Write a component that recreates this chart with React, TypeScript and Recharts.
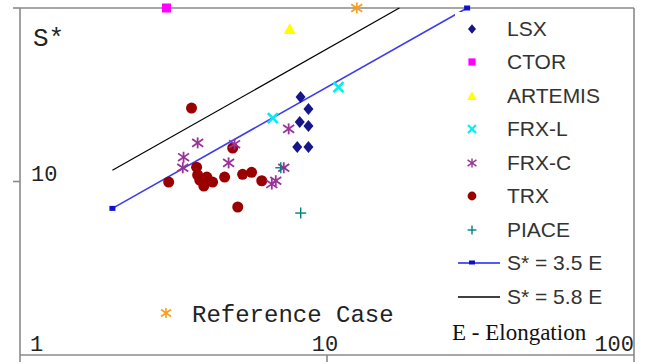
import React from "react";
import { ScatterChart, Scatter, XAxis, YAxis, ReferenceLine, Legend } from "recharts";

// ─── Data (E = elongation, S = S*) ─────────────────────────────────────────────

const lsxE = [8.2, 8.7, 8.15, 8.7, 8.0, 8.7];
const lsxS = [30.7, 26.2, 22.0, 20.9, 15.8, 15.8];
const ctorE = [3.0];
const ctorS = [100];
const artemisE = [7.56];
const artemisS = [75.7];
const frxlE = [6.66, 10.9];
const frxlS = [23.2, 35.0];
const frxcE = [3.79, 3.41, 3.39, 5.0, 4.78, 7.5, 7.23, 6.61, 6.81];
const frxcS = [16.7, 13.8, 12.0, 16.4, 12.8, 20.1, 12.0, 9.67, 10.1];
const trxE = [3.62, 4.93, 3.05, 3.76, 3.79, 4.06, 4.24, 3.97, 4.64, 5.31, 5.68, 6.13, 5.12, 3.85];
const trxS = [26.5, 15.6, 9.93, 12.1, 10.9, 10.6, 9.93, 9.42, 10.6, 11.0, 11.3, 10.1, 7.13, 10.2];
const piaceE = [7.07, 8.21];
const piaceS = [12.0, 6.58];
const refE = [12.5];
const refS = [100];
const fit35E = [2.0, 28.6];
const fit35S = [7.0, 100];
const fit58E = [2.0, 17.2];
const fit58S = [11.6, 100];

const xTicks = [1, 10, 100];
const yTicks = [1, 10, 100];

const zip = (es: number[], ss: number[]) => es.map((e, i) => ({ e, s: ss[i] }));

// ─── Colours / fonts ──────────────────────────────────────────────────────────

const C = {
  lsx: "#16168a",
  ctor: "#ff00ff",
  artemis: "#ffff00",
  frxl: "#00f0f0",
  frxc: "#993399",
  trx: "#9a0000",
  piace: "#008080",
  ref: "#f5a020",
  fit35: "#3c3cf0",
  fit58: "#000000",
  frame: "#8a8a8a",
  text: "#333333",
};
const MONO = "'Liberation Mono', 'Courier New', monospace";
const SANS = "'Liberation Sans', Arial, sans-serif";
const SERIF = "'Liberation Serif', 'Times New Roman', serif";

// ─── Marker shapes ────────────────────────────────────────────────────────────

type Kind = "diamond" | "square" | "triangle" | "cross" | "star" | "circle" | "plus";

const Marker = ({ kind, cx, cy, color, k = 1 }: { kind: Kind; cx: number; cy: number; color: string; k?: number }) => {
  switch (kind) {
    case "diamond":
      return <path d={`M${cx},${cy - 6 * k}L${cx + 5 * k},${cy}L${cx},${cy + 6 * k}L${cx - 5 * k},${cy}Z`} fill={color} />;
    case "square":
      return <rect x={cx - 4.5 * k} y={cy - 4.5 * k} width={9 * k} height={9 * k} fill={color} />;
    case "triangle":
      return <path d={`M${cx},${cy - 6 * k}L${cx + 6 * k},${cy + 5 * k}L${cx - 6 * k},${cy + 5 * k}Z`} fill={color} />;
    case "cross": {
      const r = 5 * k;
      return (
        <g stroke={color} strokeWidth={2.6 * k}>
          <line x1={cx - r} y1={cy - r} x2={cx + r} y2={cy + r} />
          <line x1={cx - r} y1={cy + r} x2={cx + r} y2={cy - r} />
        </g>
      );
    }
    case "star": {
      const r = 5.5 * k;
      return (
        <g stroke={color} strokeWidth={1.8 * k}>
          <line x1={cx - r} y1={cy - r * 0.7} x2={cx + r} y2={cy + r * 0.7} />
          <line x1={cx - r} y1={cy + r * 0.7} x2={cx + r} y2={cy - r * 0.7} />
          <line x1={cx} y1={cy - r} x2={cx} y2={cy + r} />
        </g>
      );
    }
    case "circle":
      return <circle cx={cx} cy={cy} r={5.5 * k} fill={color} />;
    case "plus": {
      const r = 5.5 * k;
      return (
        <g stroke={color} strokeWidth={1.4}>
          <line x1={cx - r} y1={cy} x2={cx + r} y2={cy} />
          <line x1={cx} y1={cy - r} x2={cx} y2={cy + r} />
        </g>
      );
    }
  }
  return null;
};

const shapeOf = (kind: Kind, color: string) => (p: any) => <Marker kind={kind} cx={p.cx} cy={p.cy} color={color} />;

// ─── Legend ───────────────────────────────────────────────────────────────────

const legendItems: { name: string; kind: Kind | "line"; color: string; dot?: boolean }[] = [
  { name: "LSX", kind: "diamond", color: C.lsx },
  { name: "CTOR", kind: "square", color: C.ctor },
  { name: "ARTEMIS", kind: "triangle", color: C.artemis },
  { name: "FRX-L", kind: "cross", color: C.frxl },
  { name: "FRX-C", kind: "star", color: C.frxc },
  { name: "TRX", kind: "circle", color: C.trx },
  { name: "PIACE", kind: "plus", color: C.piace },
  { name: "S* = 3.5 E", kind: "line", color: "#2020f0", dot: true },
  { name: "S* = 5.8 E", kind: "line", color: C.fit58 },
];

const LegendBox = () => (
  <div style={{ background: "#fff", padding: "0 6px 0 0" }}>
    {legendItems.map((it) => (
      <div key={it.name} style={{ display: "flex", alignItems: "center", height: 33.5 }}>
        <svg width={52} height={20} style={{ display: "block" }}>
          {it.kind === "line" ? (
            <g>
              <line x1={3} y1={10} x2={45} y2={10} stroke={it.color} strokeWidth={1.6} />
              {it.dot && <rect x={14} y={7.5} width={6} height={4} fill="#1010c0" />}
            </g>
          ) : (
            <Marker kind={it.kind as Kind} cx={17} cy={10} color={it.color} k={0.8} />
          )}
        </svg>
        <span style={{ fontFamily: SANS, fontSize: 21, color: C.text, lineHeight: "20px" }}>{it.name}</span>
      </div>
    ))}
  </div>
);

// ─── Ticks ────────────────────────────────────────────────────────────────────

const XTick = ({ x, y, payload }: any) => {
  const v = payload.value;
  const anchor = v === 1 ? "start" : v === 100 ? "end" : "middle";
  const tx = v === 1 ? x + 10 : v === 100 ? x : x - 2;
  return (
    <text x={tx} y={y - 11} textAnchor={anchor} fontFamily={MONO} fontSize={22} fill="#222">
      {v}
    </text>
  );
};

const YTick = ({ x, y, payload }: any) =>
  payload.value === 10 ? (
    <text x={x + 18} y={y - 1} textAnchor="start" fontFamily={MONO} fontSize={22} fill="#222">
      10
    </text>
  ) : (
    <g />
  );

// ─── Chart ────────────────────────────────────────────────────────────────────

export default function App() {
  return (
    <div style={{ position: "absolute", left: 0, top: 0, width: 652, height: 363, background: "#fff" }}>
      <ScatterChart width={652} height={363} margin={{ top: 8, right: 18, bottom: 0, left: 0 }}>
        <XAxis
          dataKey="e"
          type="number"
          scale="log"
          domain={[1, 100]}
          ticks={xTicks}
          height={8}
          tickSize={7}
          tickMargin={0}
          tick={<XTick />}
          axisLine={{ stroke: C.frame, strokeWidth: 1.6 }}
          tickLine={{ stroke: C.frame, strokeWidth: 1.6 }}
        />
        <YAxis
          dataKey="s"
          type="number"
          scale="log"
          domain={[1, 100]}
          ticks={yTicks}
          width={20}
          tickSize={7}
          tickMargin={0}
          tick={<YTick />}
          axisLine={{ stroke: C.frame, strokeWidth: 1.6 }}
          tickLine={{ stroke: C.frame, strokeWidth: 1.6 }}
        />
        <ReferenceLine y={100} stroke={C.frame} strokeWidth={1.6} />
        <ReferenceLine x={100} stroke={C.frame} strokeWidth={1.6} />

        <Legend
          layout="vertical"
          align="center"
          verticalAlign="middle"
          content={() => <LegendBox />}
          wrapperStyle={{ left: 455, top: 12, width: "auto" }}
        />

        <Scatter name="S* = 5.8 E" data={zip(fit58E, fit58S)} fill={C.fit58}
          line={{ stroke: C.fit58, strokeWidth: 1.2 }} shape={() => <g />} isAnimationActive={false} />
        <Scatter name="S* = 3.5 E" data={zip(fit35E, fit35S)} fill={C.fit35}
          line={{ stroke: C.fit35, strokeWidth: 1.6 }}
          shape={(p: any) => <rect x={p.cx - 3} y={p.cy - 2.5} width={6} height={5} fill="#1010d0" />}
          isAnimationActive={false} />

        <Scatter name="TRX" data={zip(trxE, trxS)} fill={C.trx} shape={shapeOf("circle", C.trx)} isAnimationActive={false} />
        <Scatter name="FRX-C" data={zip(frxcE, frxcS)} fill={C.frxc} shape={shapeOf("star", C.frxc)} isAnimationActive={false} />
        <Scatter name="PIACE" data={zip(piaceE, piaceS)} fill={C.piace} shape={shapeOf("plus", C.piace)} isAnimationActive={false} />
        <Scatter name="LSX" data={zip(lsxE, lsxS)} fill={C.lsx} shape={shapeOf("diamond", C.lsx)} isAnimationActive={false} />
        <Scatter name="FRX-L" data={zip(frxlE, frxlS)} fill={C.frxl} shape={shapeOf("cross", C.frxl)} isAnimationActive={false} />
        <Scatter name="ARTEMIS" data={zip(artemisE, artemisS)} fill={C.artemis} shape={shapeOf("triangle", C.artemis)} isAnimationActive={false} />
        <Scatter name="CTOR" data={zip(ctorE, ctorS)} fill={C.ctor} shape={shapeOf("square", C.ctor)} isAnimationActive={false} />
        <Scatter name="Reference Case" data={zip(refE, refS)} fill={C.ref} shape={shapeOf("star", C.ref)} isAnimationActive={false} />
      </ScatterChart>

      {/* free-standing annotations */}
      <svg width={652} height={363} style={{ position: "absolute", left: 0, top: 0, pointerEvents: "none" }}>
        <text x={33} y={46} fontFamily={MONO} fontSize={26} fill="#222">S*</text>
        <Marker kind="star" cx={166} cy={313} color={C.ref} k={0.9} />
        <text x={192} y={322} fontFamily={MONO} fontSize={24} fill="#222">Reference Case</text>
        <text x={452} y={340} fontFamily={SERIF} fontSize={23} fill="#111">E - Elongation</text>
      </svg>
    </div>
  );
}
